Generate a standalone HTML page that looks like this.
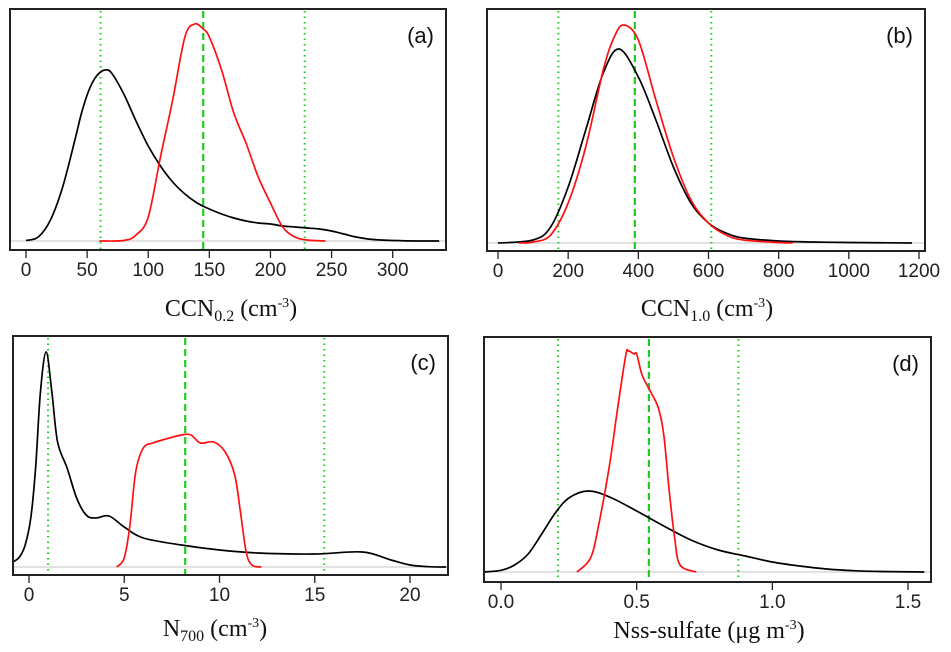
<!DOCTYPE html>
<html><head><meta charset="utf-8">
<style>
html,body{margin:0;padding:0;background:#fff;}
svg{display:block;}
.tick{font-family:"Liberation Sans",sans-serif;font-size:19px;fill:#222;}
.ttl{font-family:"Liberation Serif",serif;font-size:24px;fill:#111;}
.plab{font-family:"Liberation Sans",sans-serif;font-size:22px;fill:#111;}
</style></head>
<body>
<svg id="fig" width="951" height="652" viewBox="0 0 951 652"></svg>
<script>
// Panel (a) CCN0.2
const aTicks=[0,50,100,150,200,250,300];
const aBlackX=[0,10,20,30,40,45,50,55,60,65,70,80,90,100,110,120,130,140,150,160,170,180,190,200,210,220,230,240,250,260,270,280,290,300,320,338];
const aBlackY=[0.5,4,21,54,101,126,146,160,168,171,168,147,120,95,75,59,47,38,32,27,23,20,18,17,15,14,13,12,10,7,4,2,1,0.5,0,0];
const aRedX=[60,80,90,100,110,120,130,138,145,150,160,170,180,190,200,210,220,230,245];
const aRedY=[0,0.5,6,24,84,141,204,217,212,204,171,128,98,64,38,14,4,1,0];
const aMean=[145]; const aBounds=[61,228];
// Panel (b) CCN1.0
const bTicks=[0,200,400,600,800,1000,1200];
const bBlackX=[0,100,150,200,250,300,345,400,450,500,550,600,650,700,800,900,1000,1180];
const bBlackY=[0,3,16,56,113,170,194,166,123,76,40,20,10,5,2,1,0.5,0];
const bRedX=[60,100,150,200,250,300,330,358,400,450,500,550,600,650,700,800,840];
const bRedY=[0,1,8,40,96,173,205,218,203,143,86,43,20,8,3,0.5,0];
const bMean=[390]; const bBounds=[172,608];
// Panel (c) N700
const cTicks=[0,5,10,15,20];
const cBlackX=[-0.84,-0.5,-0.2,0.1,0.35,0.6,0.9,1.2,1.5,2,2.5,3,3.5,4.2,5,6,8,10,12,15,17.5,19,20,21,21.9];
const cBlackY=[5,10,22,50,100,175,215,175,125,99,69,52,49,51,40,29,22,17,14,13,15,7,2,0.3,0];
const cRedX=[4.6,5,5.3,5.6,6,6.5,7,8,8.5,9,9.7,10.3,10.8,11.1,11.4,11.7,12.2];
const cRedY=[0,9,42,95,119,124,127,132,132,124,125,115,92,55,15,2,0];
const cMean=[8.2]; const cBounds=[1.0,15.5];
// Panel (d) Nss-sulfate
const dTicks=[0,0.5,1.0,1.5];
const dTickLabels=["0.0","0.5","1.0","1.5"];
const dBlackX=[-0.063,0,0.05,0.1,0.15,0.2,0.25,0.32,0.4,0.5,0.6,0.7,0.8,0.9,1.0,1.1,1.2,1.3,1.4,1.56];
const dBlackY=[0,1.7,7,18,38,59,74,81,75,61,46,32,22,16,10,6,3,1.3,0.5,0];
const dRedX=[0.28,0.33,0.36,0.4,0.43,0.46,0.47,0.49,0.5,0.52,0.55,0.58,0.6,0.62,0.64,0.66,0.72];
const dRedY=[0,14,47,107,164,217,221,218,218,197,181,164,137,81,34,7,0];
const dMean=[0.545]; const dBounds=[0.21,0.875];

const NS="http://www.w3.org/2000/svg";
const svg=document.getElementById('fig');
function mk(tag,attrs,parent){const e=document.createElementNS(NS,tag);for(const k in attrs)e.setAttribute(k,attrs[k]);(parent||svg).appendChild(e);return e;}
function pathFrom(pts){
  let d=`M${pts[0][0].toFixed(2)},${pts[0][1].toFixed(2)}`;
  for(let i=0;i<pts.length-1;i++){
    const p0=pts[Math.max(0,i-1)],p1=pts[i],p2=pts[i+1],p3=pts[Math.min(pts.length-1,i+2)];
    const c1=[p1[0]+(p2[0]-p0[0])/6,p1[1]+(p2[1]-p0[1])/6];
    const c2=[p2[0]-(p3[0]-p1[0])/6,p2[1]-(p3[1]-p1[1])/6];
    d+=`C${c1[0].toFixed(2)},${c1[1].toFixed(2)} ${c2[0].toFixed(2)},${c2[1].toFixed(2)} ${p2[0].toFixed(2)},${p2[1].toFixed(2)}`;
  }
  return d;
}
const defs=mk('defs',{});
function panel(cfg){
  const g=mk('g',{});
  
  
  const cp=mk('clipPath',{id:'clip-'+cfg.id},defs);
  mk('rect',{x:cfg.L,y:cfg.T,width:cfg.R-cfg.L,height:cfg.B-cfg.T},cp);
  const sx=v=>cfg.x0px+v*(cfg.x1px-cfg.x0px)/cfg.x1v;
  const sy=v=>cfg.base-v;
  const bl=mk('line',{x1:cfg.L+1,x2:cfg.R-1,y1:cfg.base,y2:cfg.base,stroke:'#d0d0d0','stroke-width':1.2},g);
  
  
  cfg.bounds.forEach(v=>{
    const l=mk('line',{x1:sx(v),x2:sx(v),y1:cfg.T+2,y2:cfg.B-1,stroke:'#1ecc1e','stroke-width':2,'stroke-dasharray':'1.5,4'},g);
    
    
  });
  cfg.mean.forEach(v=>{
    const l=mk('line',{x1:sx(v),x2:sx(v),y1:cfg.T+2,y2:cfg.B-1,stroke:'#1ecc1e','stroke-width':2.2,'stroke-dasharray':'7,4'},g);
    
    
  });
  const blk=mk('path',{d:pathFrom(cfg.bx.map((v,i)=>[sx(v),sy(cfg.by[i])])),fill:'none',stroke:'#000','stroke-width':1.7,'clip-path':'url(#clip-'+cfg.id+')'},g);
  
  
  const red=mk('path',{d:pathFrom(cfg.rx.map((v,i)=>[sx(v),sy(cfg.ry[i])])),fill:'none',stroke:'#ff1010','stroke-width':1.7,'clip-path':'url(#clip-'+cfg.id+')'},g);
  
  
  const box=mk('rect',{x:cfg.L,y:cfg.T,width:cfg.R-cfg.L,height:cfg.B-cfg.T,fill:'none',stroke:'#222','stroke-width':2},g);
  
  
  cfg.ticks.forEach((v,i)=>{
    const t=mk('line',{x1:sx(v),x2:sx(v),y1:cfg.B,y2:cfg.B+8,stroke:'#222','stroke-width':1.3},g);
    
    
    const tx=mk('text',{x:sx(v),y:cfg.B+26,'text-anchor':'middle',class:'tick'},g);
    tx.textContent=cfg.labels?cfg.labels[i]:String(v);
    
    
  });
  const pl=mk('text',{x:cfg.R-12,y:cfg.T+34,'text-anchor':'end',class:'plab'},g);
  pl.textContent='('+cfg.id+')';
  
  
  const tt=mk('text',{x:cfg.tx,y:cfg.ty,'text-anchor':'middle',class:'ttl'},g);
  tt.innerHTML=cfg.title;
  
  
}
panel({id:'a',L:10,R:446,T:9,B:250,base:241,x0px:26,x1px:392.7,x1v:300,ticks:aTicks,bx:aBlackX,by:aBlackY,rx:aRedX,ry:aRedY,mean:aMean,bounds:aBounds,tx:231,ty:316,
  title:'CCN<tspan font-size="16" dy="5">0.2</tspan><tspan dy="-5"> (cm</tspan><tspan font-size="14" dy="-9">-3</tspan><tspan dy="9">)</tspan>'});
panel({id:'b',L:487,R:925,T:9,B:251,base:243,x0px:498,x1px:919,x1v:1200,ticks:bTicks,bx:bBlackX,by:bBlackY,rx:bRedX,ry:bRedY,mean:bMean,bounds:bBounds,tx:707,ty:316,
  title:'CCN<tspan font-size="16" dy="5">1.0</tspan><tspan dy="-5"> (cm</tspan><tspan font-size="14" dy="-9">-3</tspan><tspan dy="9">)</tspan>'});
panel({id:'c',L:13,R:448,T:336,B:575,base:567,x0px:29,x1px:410,x1v:20,ticks:cTicks,bx:cBlackX,by:cBlackY,rx:cRedX,ry:cRedY,mean:cMean,bounds:cBounds,tx:215,ty:636,
  title:'N<tspan font-size="16" dy="5">700</tspan><tspan dy="-5"> (cm</tspan><tspan font-size="14" dy="-9">-3</tspan><tspan dy="9">)</tspan>'});
panel({id:'d',L:484,R:931,T:337,B:582,base:572,x0px:501,x1px:908,x1v:1.5,ticks:dTicks,labels:dTickLabels,bx:dBlackX,by:dBlackY,rx:dRedX,ry:dRedY,mean:dMean,bounds:dBounds,tx:709,ty:638,
  title:'Nss-sulfate (μg m<tspan font-size="14" dy="-9">-3</tspan><tspan dy="9">)</tspan>'});
</script>
</body></html>
